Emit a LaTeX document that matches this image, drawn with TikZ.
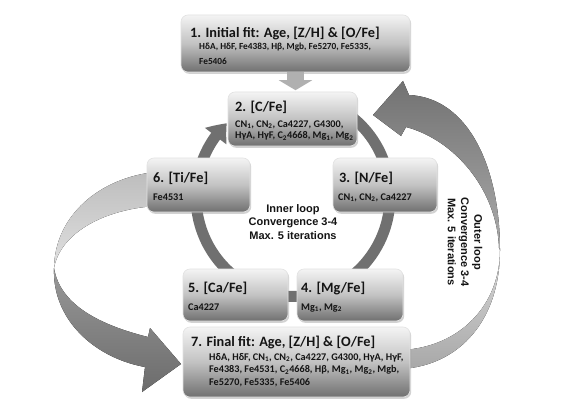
\documentclass[tikz,border=0pt]{standalone}
\usepackage{fontspec}
\setmainfont{Carlito}
\newfontfamily\arialfont{Liberation Sans}
\usetikzlibrary{arrows.meta,bending,shadows}
\definecolor{boxtop}{HTML}{F4F4F4}
\definecolor{boxmid}{HTML}{C2C2C2}
\definecolor{boxbot}{HTML}{707070}
\definecolor{boxline}{HTML}{E2E2E2}
\definecolor{ringgray}{HTML}{707070}
\definecolor{arrowgray}{HTML}{B0B0B0}
\definecolor{darkA}{HTML}{727272}
\definecolor{darkB}{HTML}{ABABAB}
\definecolor{darkC}{HTML}{6C6C6C}
\definecolor{darkD}{HTML}{989898}
\definecolor{lightA}{HTML}{D8D8D8}
\definecolor{lightB}{HTML}{A8A8A8}
\definecolor{lightC}{HTML}{BDBDBD}
\definecolor{lightD}{HTML}{E0E0E0}
\definecolor{txt}{HTML}{141414}
\pgfdeclarelayer{bg}
\pgfsetlayers{bg,main}
\begin{document}
\begin{tikzpicture}[x=1pt,y=1pt,
  box/.style={rounded corners=7pt, draw=boxline, line width=0.6pt,
    top color=boxtop, bottom color=boxbot, middle color=boxmid, inner sep=0pt,
    drop shadow={shadow xshift=1.2pt, shadow yshift=-1.8pt, opacity=0.35}},
  ttl/.style={anchor=base west, inner sep=0pt, text=txt, font=\bfseries\fontsize{14.3}{17}\selectfont},
  sub/.style={anchor=base west, inner sep=0pt, text=txt, font=\bfseries\fontsize{10.2}{12}\selectfont},
  subsmall/.style={anchor=base west, inner sep=0pt, text=txt, font=\bfseries\fontsize{9.3}{12}\selectfont},
  looptext/.style={align=center, inner sep=0pt, text=txt, font=\arialfont\bfseries\fontsize{11}{13.3}\selectfont},
  ring/.style={draw=ringgray, line width=11pt, -{Triangle[width=26pt,length=17pt,bend]}},
  downarrow/.style={draw=arrowgray, line width=17pt, -{Triangle[width=33pt,length=10pt]}, shorten >=1.5pt}
]
\useasboundingbox (0,0) rectangle (585,413);

% boxes
\node[box, minimum width=229pt, minimum height=57pt] (b1) at (295.5,369.5) {};
\node[box, minimum width=129pt, minimum height=54pt] (b2) at (292.5,294) {};
\node[box, minimum width=103pt, minimum height=54pt] (b6) at (198.5,228) {};
\node[box, minimum width=104pt, minimum height=54pt] (b3) at (385,228) {};
\node[box, minimum width=105pt, minimum height=52pt] (b5) at (235.5,118) {};
\node[box, minimum width=106pt, minimum height=52pt] (b4) at (350,118) {};
\node[box, minimum width=227pt, minimum height=70pt] (b7) at (296.5,51) {};

\begin{pgfonlayer}{bg}
  \fill[white] (0,0) rectangle (585,413);
  % outer loop arrow (right)
  \fill[top color=darkA, bottom color=darkB]
    (500,163) .. controls (500,243) and (470,315) .. (409,318)
    -- (403,332) -- (373,298) -- (401,277) -- (406,286)
    .. controls (455,273) and (497,223) .. (499,165) -- cycle;
  \fill[top color=lightA, bottom color=lightB]
    (500,163) .. controls (500,93) and (460,48) .. (402,44)
    -- (402,63) .. controls (460,66) and (500,108) .. (500,163) -- cycle;
  % left arrow (6 -> 7)
  \fill[top color=lightC, bottom color=lightD]
    (155,241) .. controls (100,235) and (55,198) .. (54,145)
    .. controls (60,178) and (100,203) .. (155,207) -- cycle;
  \fill[top color=darkD, bottom color=darkC]
    (54,145) .. controls (60,108) and (100,88) .. (148,76)
    -- (150,85) -- (181,49) -- (142,21) -- (145,46)
    .. controls (95,55) and (52,93) .. (54,145) -- cycle;
  % inner loop ring
  \draw[ring] (341.5,303.1) arc[start angle=60, end angle=-227, x radius=97, y radius=100];
\end{pgfonlayer}

% arrow 1 -> 2
\draw[downarrow] (b1.south) -- (b1.south |- b2.north);

% texts
\node[ttl] (t1) at (190,375.5) {1. Initial fit: Age, [Z/H] \& [O/Fe]};
\node[subsmall] (s1a) at (199,363.3) {HδA, HδF, Fe4383, Hβ, Mgb, Fe5270, Fe5335,};
\node[subsmall] (s1b) at (199,348.3) {Fe5406};

\node[ttl] (t2) at (235,301.4) {2. [C/Fe]};
\node[sub] (s2a) at (235,285.7) {CN\textsubscript{1}, CN\textsubscript{2}, Ca4227, G4300,};
\node[sub] (s2b) at (235,274.3) {HγA, HγF, C\textsubscript{2}4668, Mg\textsubscript{1}, Mg\textsubscript{2}};

\node[ttl] (t6) at (153,230.4) {6. [Ti/Fe]};
\node[sub] (s6) at (153,213) {Fe4531};

\node[ttl] (t3) at (339,230.4) {3. [N/Fe]};
\node[sub] (s3) at (338,213) {CN\textsubscript{1}, CN\textsubscript{2}, Ca4227};

\node[ttl] (t5) at (188,120.4) {5. [Ca/Fe]};
\node[sub] (s5) at (188,103) {Ca4227};

\node[ttl] (t4) at (301,120.4) {4. [Mg/Fe]};
\node[sub] (s4) at (301,103) {Mg\textsubscript{1}, Mg\textsubscript{2}};

\node[ttl] (t7) at (191,66.4) {7. Final fit: Age, [Z/H] \& [O/Fe]};
\node[sub] (s7a) at (209,53) {HδA, HδF, CN\textsubscript{1}, CN\textsubscript{2}, Ca4227, G4300, HγA, HγF,};
\node[sub] (s7b) at (209,40.5) {Fe4383, Fe4531, C\textsubscript{2}4668, Hβ, Mg\textsubscript{1}, Mg\textsubscript{2}, Mgb,};
\node[sub] (s7c) at (209,28) {Fe5270, Fe5335, Fe5406};

\node[looptext] (inner) at (293,191) {Inner loop\\Convergence 3-4\\Max. 5 iterations};
\node[looptext, rotate=-90] (outer) at (465,171) {Outer loop\\Convergence 3-4\\Max. 5 iterations};
\end{tikzpicture}
\end{document}
